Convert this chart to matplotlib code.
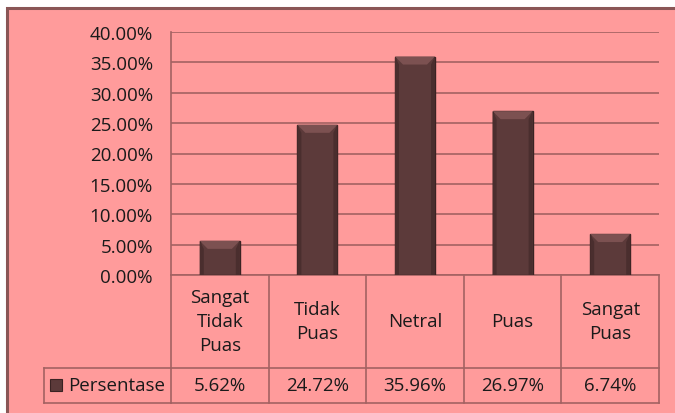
import matplotlib.pyplot as plt
from matplotlib.patches import Rectangle, Polygon
import numpy as np

plt.rcParams['font.family'] = ['Open Sans', 'DejaVu Sans']

categories = ["Sangat\nTidak\nPuas", "Tidak\nPuas", "Netral", "Puas", "Sangat\nPuas"]
values = [5.62, 24.72, 35.96, 26.97, 6.74]
value_labels = ["5.62%", "24.72%", "35.96%", "26.97%", "6.74%"]
series_name = "Persentase"
yticks = [0, 5, 10, 15, 20, 25, 30, 35, 40]

W, H = 675, 414
bg = "#FF9B9B"
line_c = "#A36262"
frame_c = "#8A5656"
bar_c = "#5C3A3A"
bar_edge = "#3A2323"
bevel_c = "#7C5151"
text_c = "#1A1A1A"
fs = 13.5

fig = plt.figure(figsize=(W / 100, H / 100), dpi=100)
fig.patch.set_facecolor("white")

# outer chart frame (pink, cut off at right/bottom)
fig.patches.append(Rectangle((7 / W, -0.3), 1.2, (414 - 8) / H + 0.3 - 1 / H,
                             transform=fig.transFigure, facecolor=bg,
                             edgecolor=frame_c, linewidth=2.2, zorder=-10))

# plot area in pixels
L, R, T, B = 171, 659, 33, 276
ax = fig.add_axes([L / W, 1 - B / H, (R - L) / W, (B - T) / H])
ax.set_facecolor("none")
ax.set_xlim(-0.5, len(values) - 0.5)
ax.set_ylim(0, 40)

for s in ["top", "right", "bottom"]:
    ax.spines[s].set_visible(False)
ax.spines["left"].set_color(line_c)
ax.spines["left"].set_linewidth(1.2)

ax.set_yticks(yticks)
ax.set_yticklabels([f"{t:.2f}%" for t in yticks], fontsize=fs, color=text_c)
ax.tick_params(axis="y", length=0, pad=13)
ax.set_xticks([])
ax.yaxis.grid(True, color=line_c, linewidth=1.2)
ax.set_axisbelow(True)

# bars with a simple bevel
bw = 0.41
x = np.arange(len(values))
ax.bar(x, values, width=bw, color=bar_c, edgecolor=bar_edge, linewidth=1.0, zorder=3)
px_per_unit_y = (B - T) / 40
px_per_unit_x = (R - L) / len(values)
bh = 8 / px_per_unit_y
bwx = 8 / px_per_unit_x
for xi, v in zip(x, values):
    x0, x1 = xi - bw / 2, xi + bw / 2
    ax.add_patch(Polygon([(x0, v), (x1, v), (x1 - bwx, v - bh), (x0 + bwx, v - bh)],
                         closed=True, facecolor=bevel_c, edgecolor="none", zorder=4))
    ax.add_patch(Polygon([(x0, v), (x0 + bwx * 0.5, v - bh), (x0 + bwx * 0.5, 0), (x0, 0)],
                         closed=True, facecolor="#4A2E2E", edgecolor="none", zorder=4))
    ax.add_patch(Polygon([(x1, v), (x1 - bwx * 0.5, v - bh), (x1 - bwx * 0.5, 0), (x1, 0)],
                         closed=True, facecolor="#4A2E2E", edgecolor="none", zorder=4))

# data table below the axis (y in axes fraction)
def ya(py):
    return (B - py) / (B - T)

trans = ax.get_xaxis_transform()
lk = dict(color=line_c, linewidth=1.2, clip_on=False, transform=trans)
y_row1, y_row2, y_row3 = ya(276), ya(369), ya(404)
ax.plot([-0.5, 4.5], [y_row1, y_row1], **lk)
ax.plot([-0.5, 4.5], [y_row2, y_row2], **lk)
ax.plot([-0.5, 4.5], [y_row3, y_row3], **lk)
for b in np.arange(-0.5, len(values)):
    ax.plot([b, b], [y_row1, y_row3], **lk)

# legend cell to the left
xl = -0.5 - (L - 44) / px_per_unit_x
ax.plot([xl, -0.5], [y_row2, y_row2], **lk)
ax.plot([xl, -0.5], [y_row3, y_row3], **lk)
ax.plot([xl, xl], [y_row2, y_row3], **lk)

for xi, cat, lab in zip(x, categories, value_labels):
    ax.text(xi, ya(322), cat, transform=trans, ha="center", va="center",
            fontsize=fs, color=text_c, linespacing=1.45, clip_on=False)
    ax.text(xi, ya(386), lab, transform=trans, ha="center", va="center",
            fontsize=fs, color=text_c, clip_on=False)

xm = -0.5 - (L - 50) / px_per_unit_x
ax.add_patch(Rectangle((xm, ya(392)), 12 / px_per_unit_x, (12) / (B - T),
                       transform=trans, facecolor=bar_c, edgecolor=bar_edge,
                       linewidth=0.8, clip_on=False))
ax.text(-0.5 - (L - 68) / px_per_unit_x, ya(386), series_name, transform=trans,
        ha="left", va="center", fontsize=fs, color=text_c, clip_on=False)

fig.savefig("out.png", dpi=100)
